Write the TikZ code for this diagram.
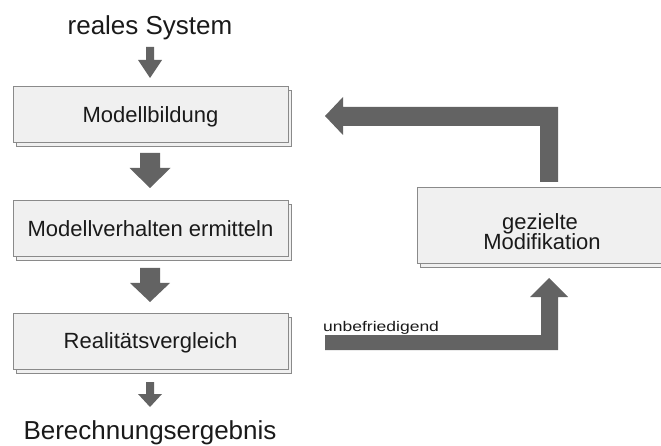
\documentclass[tikz,border=0pt]{standalone}
\usepackage{fontspec}
\setmainfont{Liberation Sans}
\usetikzlibrary{shadows}
\definecolor{boxfill}{HTML}{F0F0F0}
\definecolor{boxline}{HTML}{8A8A8A}
\definecolor{arrowgray}{HTML}{636363}
\definecolor{txt}{HTML}{1A1A1A}
\newcommand{\fatdown}[6]{\fill[arrowgray] (#1-#5,#2) -- (#1+#5,#2) -- (#1+#5,#3) -- (#1+#6,#3) -- (#1,#4) -- (#1-#6,#3) -- (#1-#5,#3) -- cycle;}
\begin{document}
\begin{tikzpicture}[x=1pt,y=-1pt,
  stepbox/.style={draw=boxline, fill=boxfill, line width=1pt, inner sep=0pt,
    copy shadow={shadow xshift=3pt, shadow yshift=-4pt},
    font=\fontsize{22}{24}\selectfont, text=txt, text height=15.75pt, text depth=0pt},
  bigtext/.style={font=\fontsize{26}{28}\selectfont, text=txt, inner sep=0pt, anchor=base},
  boxtext/.style={font=\fontsize{22}{24}\selectfont, text=txt, inner sep=0pt, anchor=base}]
\useasboundingbox (0,0) rectangle (661,446);

\node[bigtext] (sys) at (150,35) {reales System};
\node[stepbox, minimum width=275pt, minimum height=56pt] (m1) at (150.5,115) {Modellbildung};
\node[stepbox, minimum width=275pt, minimum height=56pt] (m2) at (150.5,229) {Modellverhalten ermitteln};
\node[stepbox, minimum width=275pt, minimum height=56pt] (m3) at (150.5,341) {Realitätsvergleich};
\node[bigtext] (res) at (150,439) {Berechnungsergebnis};

\node[stepbox, minimum width=248pt, minimum height=76pt] (m4) at (541,226) {};
\node[boxtext] (t4a) at (540,230) {gezielte};
\node[boxtext] (t4b) at (542,250) {Modifikation};

% vertical flow arrows
\fatdown{150}{47}{60}{78}{4}{12}
\fatdown{150}{153}{168}{188}{10}{20.5}
\fatdown{150}{268}{283}{302}{10}{20}
\fatdown{150}{382}{394}{407}{4}{12}

% feedback arrows
\fill[arrowgray] (558,182) -- (558,107) -- (343,107) -- (343,97) -- (325,116)
  -- (343,135) -- (343,126) -- (540,126) -- (540,182) -- cycle;
\fill[arrowgray] (325,335) -- (541,335) -- (541,297) -- (530,297) -- (549,278)
  -- (568,297) -- (558,297) -- (558,350) -- (325,350) -- cycle;

\node[anchor=base west, inner sep=0pt, text=txt, font=\fontsize{14}{16}\selectfont] (lbl) at (323,331) {\scalebox{1.25}[1]{unbefriedigend}};
\end{tikzpicture}
\end{document}
